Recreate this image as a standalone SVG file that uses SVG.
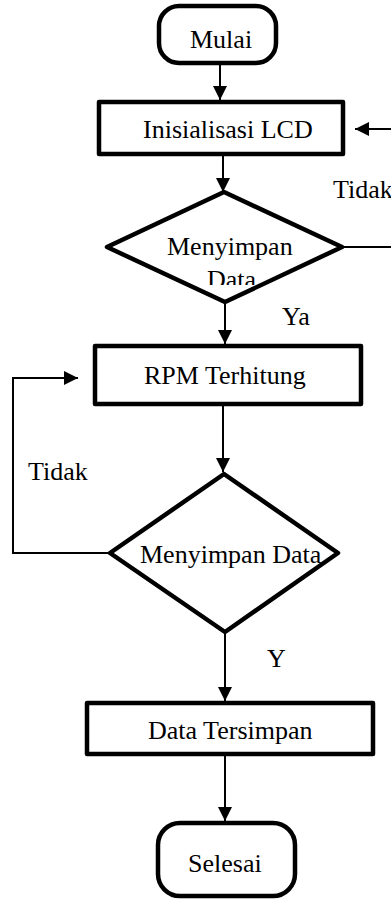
<svg xmlns="http://www.w3.org/2000/svg" width="391" height="899" viewBox="0 0 391 899">
<style>
.node{fill:#fff;stroke:#000;stroke-width:4.5;stroke-linejoin:round}
.lbl{font-family:"Liberation Serif","Times New Roman",serif;font-size:26px;fill:#000}
.conn{fill:none;stroke:#000;stroke-width:2}
</style>
<defs>
<marker id="ah" markerUnits="userSpaceOnUse" markerWidth="16" markerHeight="16" refX="14" refY="7" orient="auto">
<path d="M0,0 L14,7 L0,14 Z" fill="#000"/>
</marker>
<clipPath id="clipData"><rect x="100" y="200" width="250" height="85"/></clipPath>
</defs>
<rect width="391" height="899" fill="#fff"/>
<g id="connectors">
<path class="conn" d="M220,63 V100" marker-end="url(#ah)"/>
<path class="conn" d="M223,154 V192" marker-end="url(#ah)"/>
<path class="conn" d="M225,302 V344" marker-end="url(#ah)"/>
<path class="conn" d="M223,404 V472" marker-end="url(#ah)"/>
<path class="conn" d="M225,632 V701" marker-end="url(#ah)"/>
<path class="conn" d="M225,754 V821" marker-end="url(#ah)"/>
<path class="conn" d="M110,553 H13 V378 H78" marker-end="url(#ah)"/>
<path class="conn" d="M342,247 H400 V129 H355" marker-end="url(#ah)"/>
<text class="lbl" x="333" y="198" font-family="Liberation Serif, serif">Tidak</text>
<text class="lbl" x="282" y="325" font-family="Liberation Serif, serif">Ya</text>
<text class="lbl" x="28" y="480" font-family="Liberation Serif, serif">Tidak</text>
<text class="lbl" x="267" y="667" font-family="Liberation Serif, serif">Y</text>
</g>
<g id="mulai">
<rect class="node" x="159" y="6" width="117" height="57" rx="20"/>
<text class="lbl" x="190" y="48">Mulai</text>
</g>
<g id="lcd">
<rect class="node" x="99" y="102" width="244" height="52"/>
<text class="lbl" x="143" y="138">Inisialisasi LCD</text>
</g>
<g id="cek1">
<polygon class="node" points="224,192 342,247 225,302 107,247"/>
<text class="lbl" x="167" y="255">Menyimpan</text>
<text class="lbl" x="207" y="288" clip-path="url(#clipData)">Data</text>
</g>
<g id="rpm">
<rect class="node" x="95" y="346" width="266" height="58"/>
<text class="lbl" x="144" y="384">RPM Terhitung</text>
</g>
<g id="cek2">
<polygon class="node" points="224,474 338,553 225,632 110,553"/>
<text class="lbl" x="140" y="563">Menyimpan Data</text>
</g>
<g id="tersimpan">
<rect class="node" x="87" y="703" width="286" height="51"/>
<text class="lbl" x="148" y="739">Data Tersimpan</text>
</g>
<g id="selesai">
<rect class="node" x="158" y="823" width="137" height="73" rx="22"/>
<text class="lbl" x="188" y="872">Selesai</text>
</g>
</svg>
